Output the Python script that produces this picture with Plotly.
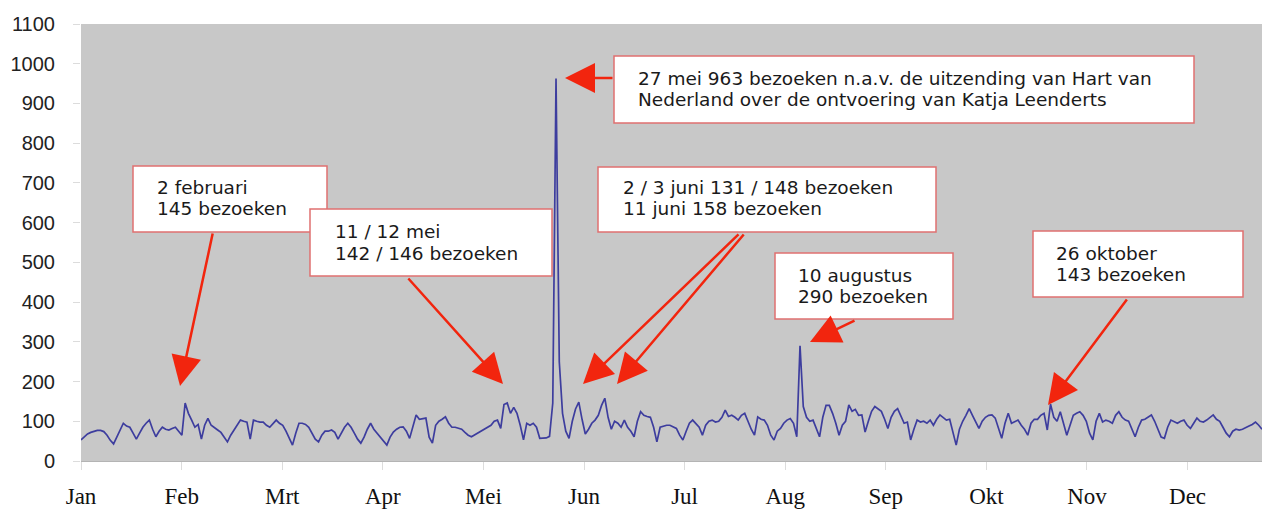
import plotly.graph_objects as go

# ---- data (daily visits, day 0 = 1 januari) ----
visits = [
    53, 60, 68, 72, 75, 77, 77, 74, 65, 52,
    43, 60, 80, 95, 88, 85, 70, 55, 70, 85,
    95, 103, 80, 61, 75, 85, 80, 78, 82, 85,
    75, 65, 146, 120, 103, 85, 92, 55, 90, 107,
    90, 85, 78, 72, 60, 48, 65, 78, 90, 103,
    100, 98, 55, 103, 100, 98, 98, 90, 85, 95,
    103, 95, 90, 75, 55, 40, 70, 95, 95, 92,
    85, 70, 55, 48, 65, 75, 75, 78, 72, 55,
    70, 85, 95, 85, 70, 55, 45, 60, 80, 95,
    80, 70, 60, 48, 40, 60, 73, 80, 85, 86,
    75, 57, 90, 116, 105, 107, 108, 60, 45, 90,
    100, 105, 111, 95, 85, 85, 82, 80, 72, 65,
    61, 66, 70, 74, 80, 85, 90, 100, 103, 82,
    142, 146, 120, 135, 120, 90, 53, 95, 90, 95,
    85, 57, 57, 58, 62, 146, 963, 250, 120, 75,
    57, 100, 131, 148, 105, 68, 80, 95, 103, 115,
    140, 158, 110, 80, 100, 95, 85, 103, 85, 75,
    61, 100, 124, 115, 112, 110, 85, 48, 85, 88,
    90, 90, 85, 82, 65, 53, 75, 95, 103, 95,
    85, 65, 90, 100, 103, 98, 100, 110, 128, 112,
    115, 110, 103, 115, 120, 100, 80, 65, 111, 105,
    103, 90, 65, 53, 75, 82, 95, 103, 107, 95,
    61, 290, 137, 110, 100, 103, 80, 61, 110, 140,
    140, 120, 95, 65, 90, 100, 141, 125, 130, 115,
    116, 73, 100, 125, 137, 130, 125, 105, 82, 110,
    125, 132, 115, 95, 98, 53, 80, 103, 98, 100,
    95, 103, 90, 105, 116, 110, 103, 105, 70, 40,
    80, 100, 115, 132, 115, 100, 82, 100, 110, 115,
    116, 108, 85, 57, 95, 120, 95, 100, 103, 90,
    80, 65, 95, 105, 105, 115, 120, 78, 143, 110,
    100, 124, 95, 65, 90, 115, 120, 124, 115, 100,
    70, 53, 100, 120, 98, 103, 100, 95, 115, 124,
    110, 103, 100, 80, 61, 85, 103, 105, 110, 116,
    100, 80, 60, 57, 85, 103, 98, 95, 100, 103,
    90, 82, 95, 108, 100, 98, 103, 110, 116, 105,
    100, 85, 70, 61, 75, 80, 78, 80, 85, 88,
    92, 98, 90, 80,
]
days = list(range(len(visits)))

month_labels = ["Jan", "Feb", "Mrt", "Apr", "Mei", "Jun",
                "Jul", "Aug", "Sep", "Okt", "Nov", "Dec"]
y_ticks = [0, 100, 200, 300, 400, 500, 600, 700, 800, 900, 1000, 1100]

callout_texts = [
    ["2 februari", "145 bezoeken"],
    ["11 / 12 mei", "142 / 146 bezoeken"],
    ["27 mei 963 bezoeken n.a.v. de uitzending van Hart van",
     "Nederland over de ontvoering van Katja Leenderts"],
    ["2 / 3 juni 131 / 148 bezoeken", "11 juni 158 bezoeken"],
    ["10 augustus", "290 bezoeken"],
    ["26 oktober", "143 bezoeken"],
]

# ---- layout geometry (window pixels) ----
W, H = 1262, 512
PLOT_L, PLOT_R, PLOT_T, PLOT_B = 81, 1262, 24, 461
MONTH_SPAN = 30.92  # days between month labels on this axis


def px(xp):
    return (xp - PLOT_L) / (PLOT_R - PLOT_L)


def py(yp):
    return (PLOT_B - yp) / (PLOT_B - PLOT_T)


boxes = [  # x0, x1, y0, y1, text-x, line1-y, line2-y
    (133, 327, 166, 232, 155, 187, 208),
    (310, 552, 209, 276, 333, 231, 253),
    (614, 1194, 56, 123, 636, 78, 99),
    (598, 936, 167, 232, 621, 187, 208),
    (775, 953, 253, 319, 796, 275, 296),
    (1033, 1243, 231, 297, 1054, 253, 274),
]
arrows = [  # tail x, tail y, tip x, tip y
    (213, 232, 180, 386),
    (407, 277, 503, 384),
    (614, 78, 565, 78),
    (740, 233, 583, 384),
    (745, 233, 617, 384),
    (856, 320, 810, 342),
    (1128, 298, 1048, 405),
]

RED = "#f2250e"
BORDER = "#e07070"

fig = go.Figure()
fig.add_trace(go.Scatter(
    x=days, y=visits, mode="lines",
    line=dict(color="#3d3d9e", width=1.7),
    hoverinfo="x+y", showlegend=False,
))

shapes = []
annotations = []
for (x0, x1, y0, y1, tx, l1, l2), lines in zip(boxes, callout_texts):
    shapes.append(dict(type="rect", xref="paper", yref="paper",
                       x0=px(x0), x1=px(x1), y0=py(y1), y1=py(y0),
                       fillcolor="white", line=dict(color=BORDER, width=1.5),
                       layer="above"))
    for ly, t in zip((l1, l2), lines):
        annotations.append(dict(xref="paper", yref="paper", x=px(tx), y=py(ly),
                                xanchor="left", yanchor="middle", text=t,
                                showarrow=False,
                                font=dict(family="DejaVu Sans", size=18.5,
                                          color="#1a1a1a")))

for (tx, ty, hx, hy) in arrows:
    annotations.append(dict(xref="paper", yref="paper", x=px(hx), y=py(hy),
                            axref="pixel", ayref="pixel",
                            ax=tx - hx, ay=ty - hy, text="",
                            showarrow=True, arrowhead=2, arrowsize=2.4,
                            arrowwidth=2.5, arrowcolor=RED, standoff=0))

fig.update_layout(
    width=W, height=H,
    margin=dict(l=PLOT_L, r=W - PLOT_R, t=PLOT_T, b=H - PLOT_B, pad=0),
    paper_bgcolor="white", plot_bgcolor="#c8c8c8",
    shapes=shapes, annotations=annotations,
    xaxis=dict(range=[-0.01, len(visits) - 1],
               tickvals=[i * MONTH_SPAN for i in range(len(month_labels))],
               ticktext=month_labels, showgrid=False, zeroline=False,
               ticks="outside", ticklen=8, tickcolor="#dcdcdc",
               ticklabelstandoff=6, showline=True, linecolor="#b4b4b4",
               tickfont=dict(family="Liberation Serif", size=23, color="#111")),
    yaxis=dict(range=[0, 1100], tickvals=y_ticks, showgrid=False,
               zeroline=False, ticks="outside", ticklen=7, tickcolor="#dcdcdc",
               ticklabelstandoff=14,
               tickfont=dict(family="Liberation Sans", size=20, color="#222")),
)

# remove the default page margin so the figure fills the window exactly
page_css = ("document.body.style.margin='0';"
            "document.body.style.overflow='hidden';")
fig.write_html("out.html", post_script=page_css,
               config={"displayModeBar": False})
